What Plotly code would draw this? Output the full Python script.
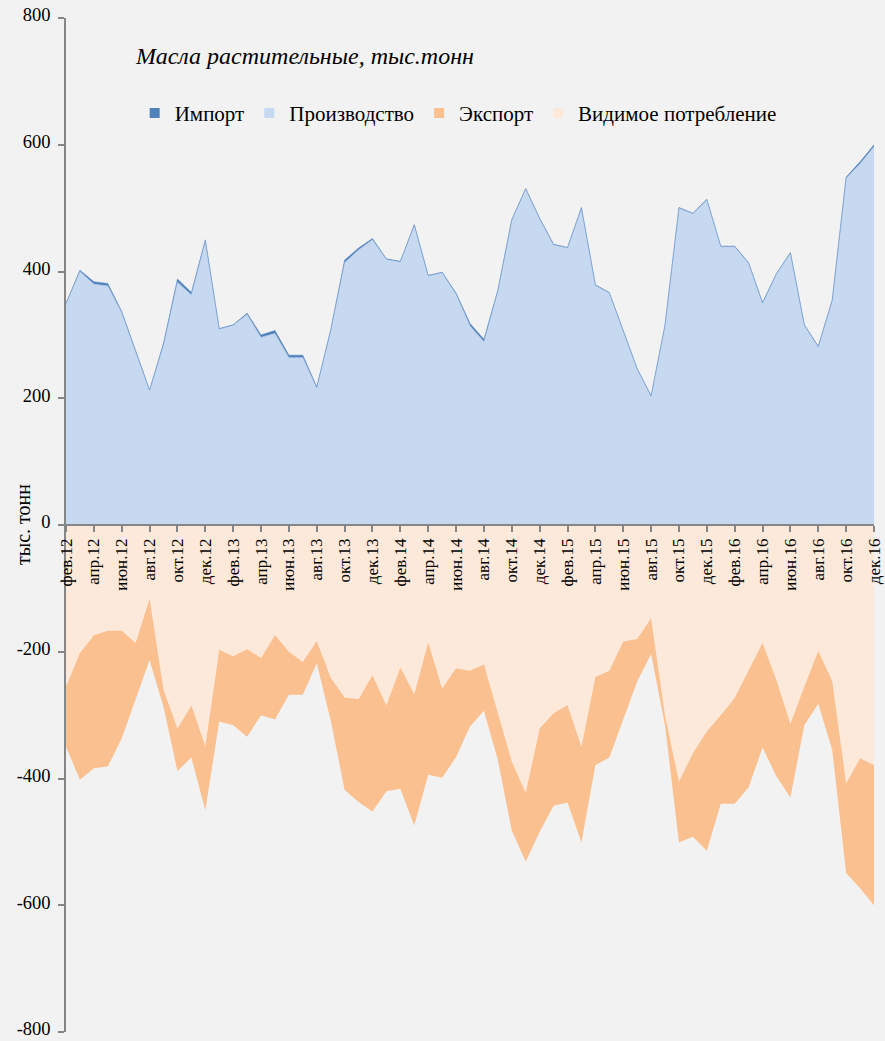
import plotly.graph_objects as go

month_names = ["янв", "фев", "мар", "апр", "май", "июн", "июл", "авг", "сен", "окт", "ноя", "дек"]
years = ["12", "13", "14", "15", "16"]
categories = [f"{m}.{y}" for y in years for m in month_names][1:]  # фев.12 .. дек.16

production = [349, 400, 380, 377, 335, 275, 212, 284, 383, 363, 448, 309, 315, 332, 296, 302, 264, 264,
              216, 306, 414, 434, 450, 419, 415, 473, 393, 398, 364, 314, 289, 369, 481, 530, 483, 442,
              437, 500, 378, 366, 307, 246, 203, 315, 500, 491, 513, 439, 439, 413, 350, 396, 429, 315,
              281, 354, 547, 570, 597]
imports = [1, 2, 4, 4, 2, 1, 1, 3, 5, 4, 2, 1, 1, 2, 4, 5, 4, 4, 2, 2, 4, 3, 2, 1, 1, 1, 1, 1, 2, 4,
           4, 2, 1, 1, 1, 1, 1, 1, 1, 1, 1, 1, 1, 1, 1, 1, 1, 1, 1, 1, 1, 1, 1, 1, 1, 1, 2, 3, 3]
consumption = [255, 202, 174, 167, 167, 186, 116, 260, 321, 285, 349, 197, 207, 196, 210, 174, 200, 216,
               183, 241, 272, 275, 237, 285, 225, 267, 185, 258, 226, 230, 220, 295, 373, 423, 321, 297,
               284, 350, 240, 230, 184, 180, 147, 301, 405, 360, 326, 300, 273, 229, 186, 245, 314, 255,
               199, 246, 408, 368, 379]
exports = [95, 200, 210, 214, 170, 90, 97, 27, 67, 82, 101, 113, 109, 138, 90, 133, 68, 52,
           35, 67, 146, 162, 215, 135, 191, 207, 209, 141, 140, 88, 73, 76, 109, 108, 163, 146,
           154, 151, 139, 137, 124, 67, 57, 15, 96, 132, 188, 140, 167, 185, 165, 152, 116, 61,
           83, 109, 141, 205, 221]

y_tickvals = [-800, -600, -400, -200, 0, 200, 400, 600, 800]
y_ticktext = ["-800", "-600", "-400", "-200", "0", "200", "400", "600", "800"]

series_names = ["Импорт", "Производство", "Экспорт", "Видимое потребление"]
colors = {"Импорт": "#4f81bd", "Производство": "#c6d9f1",
          "Экспорт": "#fac090", "Видимое потребление": "#fde9d9"}

x = list(range(len(categories)))
FONT = "'Liberation Serif', 'Times New Roman', serif"

fig = go.Figure()
# positive side
fig.add_trace(go.Scatter(x=x, y=production, stackgroup="pos", mode="lines",
                         line=dict(color="#b0c8ea", width=0.8), fillcolor=colors["Производство"],
                         showlegend=False, hoverinfo="skip"))
fig.add_trace(go.Scatter(x=x, y=imports, stackgroup="pos", mode="lines",
                         line=dict(color=colors["Импорт"], width=0.5), fillcolor=colors["Импорт"],
                         showlegend=False, hoverinfo="skip"))
# negative side
fig.add_trace(go.Scatter(x=x, y=[-v for v in consumption], stackgroup="neg", mode="lines",
                         line=dict(color=colors["Видимое потребление"], width=0),
                         fillcolor=colors["Видимое потребление"], showlegend=False, hoverinfo="skip"))
fig.add_trace(go.Scatter(x=x, y=[-v for v in exports], stackgroup="neg", mode="lines",
                         line=dict(color=colors["Экспорт"], width=0),
                         fillcolor=colors["Экспорт"], showlegend=False, hoverinfo="skip"))

# legend entries
for name in series_names:
    fig.add_trace(go.Scatter(x=[None], y=[None], mode="markers", name=name,
                             marker=dict(symbol="square", size=10, color=colors[name])))

tickvals = x[::2]
ticktext = categories[::2]

fig.update_layout(
    width=885, height=1041,
    margin=dict(l=66, r=11, t=18, b=9, autoexpand=False),
    paper_bgcolor="#f2f2f2", plot_bgcolor="#f2f2f2",
    font=dict(family=FONT, color="#000000"),
    showlegend=True,
    legend=dict(orientation="h", x=0.085, xanchor="left", y=0.906, yanchor="middle",
                font=dict(family=FONT, size=21), bgcolor="rgba(0,0,0,0)",
                itemwidth=30, tracegroupgap=0, traceorder="normal"),
    xaxis=dict(range=[0, len(categories) - 1], tickmode="array", tickvals=tickvals,
               ticktext=ticktext, tickangle=-90, showgrid=False, zeroline=False,
               showline=True, linecolor="#868686", linewidth=1.5,
               ticks="outside", ticklen=6, tickcolor="#868686", tickwidth=1.5,
               tickfont=dict(family=FONT, size=17), automargin=False,
               ticklabeloverflow="allow", anchor="free", position=0.5),
    yaxis=dict(range=[-800, 800], tickmode="array", tickvals=y_tickvals, ticktext=y_ticktext,
               showgrid=False, zeroline=False, showline=True, linecolor="#868686", linewidth=1.5,
               ticks="outside", ticklen=6, tickcolor="#868686", tickwidth=1.5,
               tickfont=dict(family=FONT, size=18.5), ticklabelstandoff=4, ticklabelshift=-3,
               automargin=False, ticklabeloverflow="allow"),
    annotations=[
        dict(text="<i>Масла растительные, тыс.тонн</i>", xref="paper", yref="paper",
             x=(133 - 66) / 808, y=(1032 - 56) / 1014, xanchor="left", yanchor="middle",
             showarrow=False, font=dict(family=FONT, size=24)),
        dict(text="тыс. тонн", xref="paper", yref="paper", x=(23 - 66) / 808, y=0.5,
             xanchor="center", yanchor="middle", textangle=-90, showarrow=False,
             font=dict(family=FONT, size=20)),
    ],
)

fig.write_html("out.html", config={"displayModeBar": False},
               post_script="document.body.style.margin='0';document.body.style.padding='0';")
